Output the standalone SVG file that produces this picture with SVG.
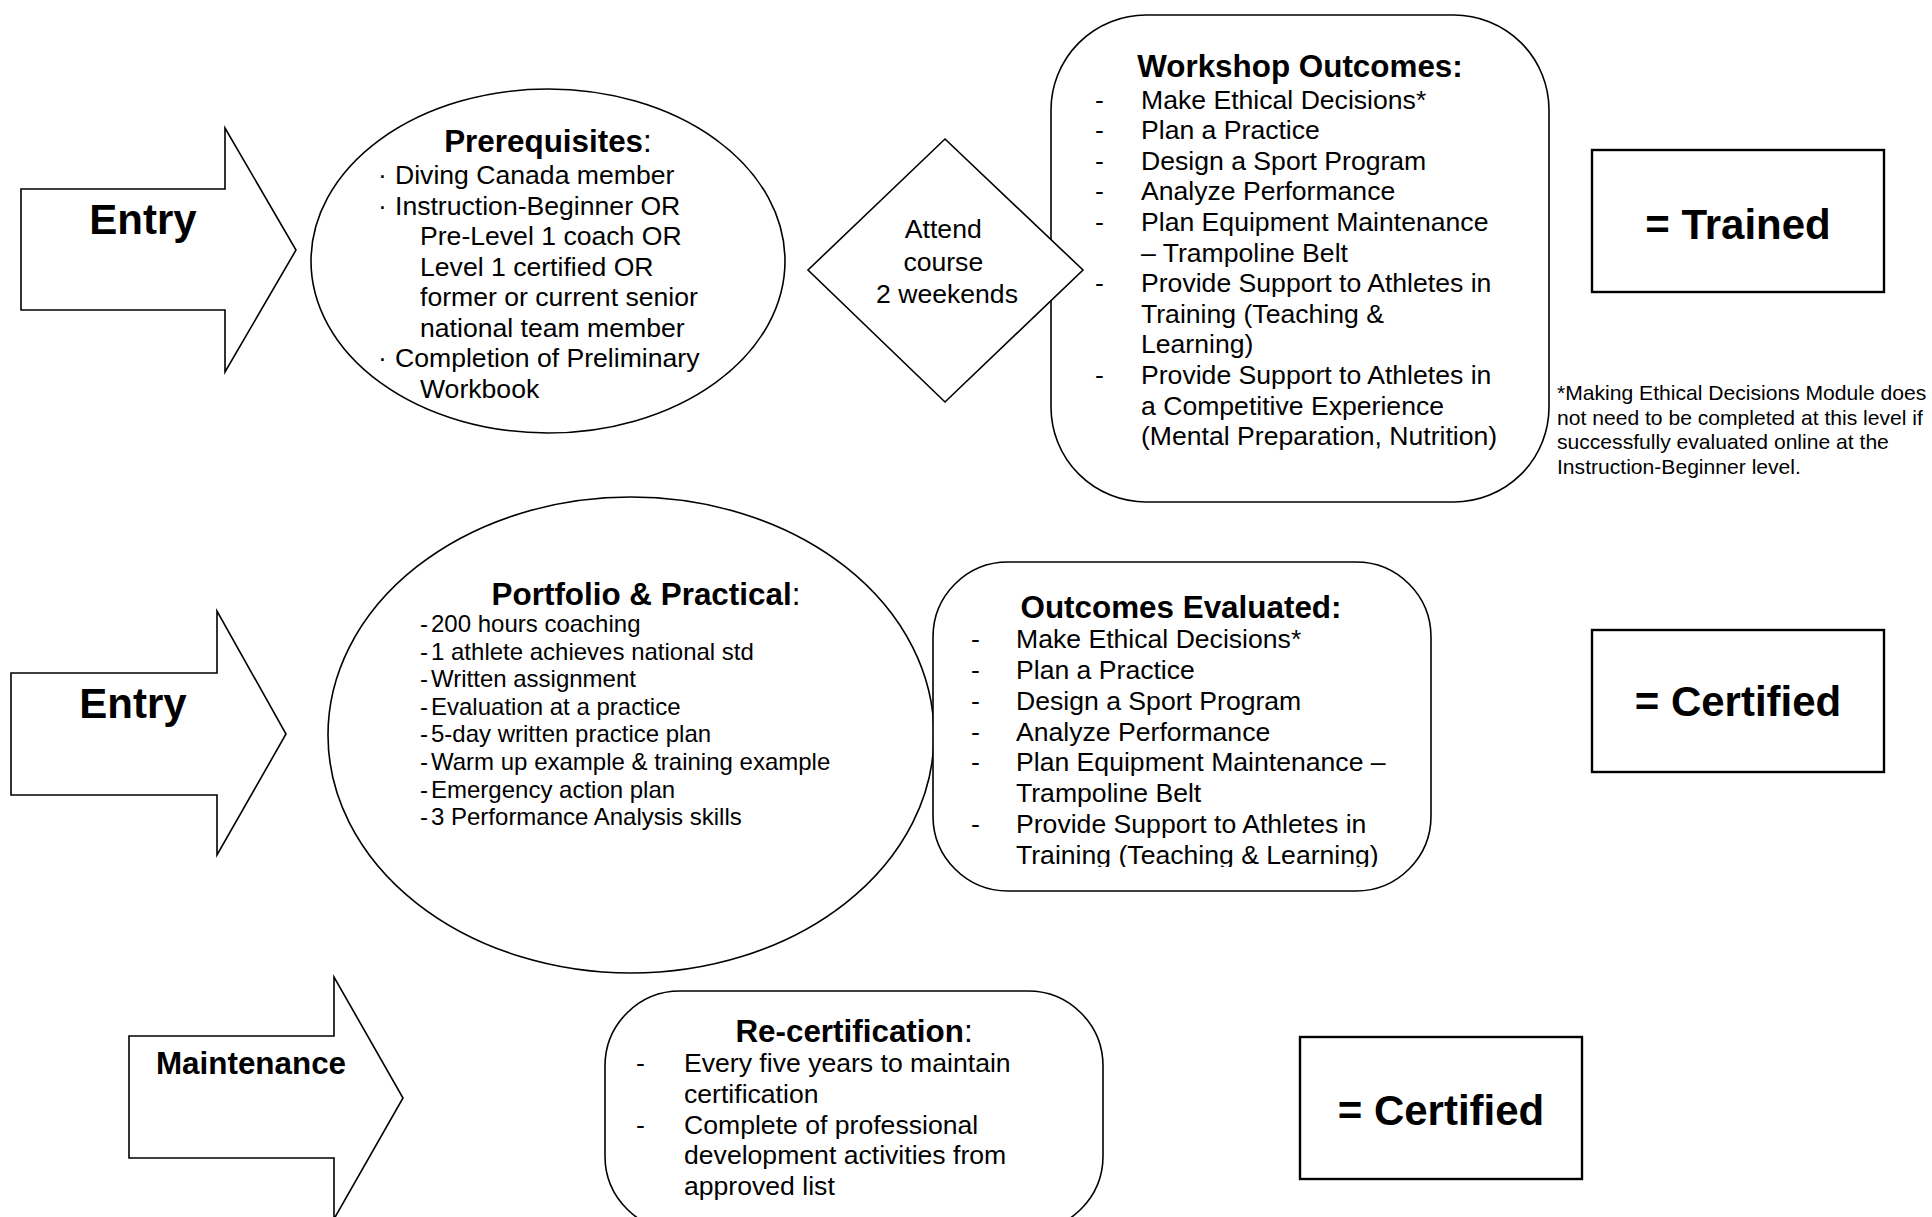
<svg xmlns="http://www.w3.org/2000/svg" width="1932" height="1217" viewBox="0 0 1932 1217">
<style>
.shape{fill:#fff;stroke:#000;stroke-width:1.6}
.box{fill:#fff;stroke:#000;stroke-width:2.4}
text{font-family:"Liberation Sans",Arial,sans-serif;fill:#000}
.title{font-size:31.4px;font-weight:bold;text-anchor:middle}
.big{font-size:42px;font-weight:bold;text-anchor:middle}
.body{font-size:26.6px}
.small{font-size:24px}
.note{font-size:21.1px}
.reg{font-weight:normal}
</style>
<defs>
<clipPath id="clipEval"><rect x="933" y="560" width="500" height="307"/></clipPath>
</defs>
<rect width="1932" height="1217" fill="#fff"/>
<g id="connectors"/>

<g id="entry1">
<polygon class="shape" points="21,189 225,189 225,128 296,250 225,372 225,310 21,310"/>
<text class="big" x="143" y="234">Entry</text>
</g>

<g id="prerequisites">
<ellipse class="shape" cx="548" cy="261" rx="237" ry="172"/>
<text class="title" x="548" y="152">Prerequisites<tspan class="reg">:</tspan></text>
<text class="body">
<tspan x="378" y="184">·</tspan><tspan x="395" y="184">Diving Canada member</tspan>
<tspan x="378" y="214.5">·</tspan><tspan x="395" y="214.5">Instruction-Beginner OR</tspan>
<tspan x="420" y="245">Pre-Level 1 coach OR</tspan>
<tspan x="420" y="275.5">Level 1 certified OR</tspan>
<tspan x="420" y="306">former or current senior</tspan>
<tspan x="420" y="336.5">national team member</tspan>
<tspan x="378" y="367">·</tspan><tspan x="395" y="367">Completion of Preliminary</tspan>
<tspan x="420" y="397.5">Workbook</tspan>
</text>
</g>

<g id="workshop-outcomes">
<rect class="shape" x="1051" y="15" width="498" height="487" rx="95" ry="95"/>
<text class="title" x="1300" y="77">Workshop Outcomes:</text>
<text class="body">
<tspan x="1095" y="108.5">-</tspan><tspan x="1141" y="108.5">Make Ethical Decisions*</tspan>
<tspan x="1095" y="139.1">-</tspan><tspan x="1141" y="139.1">Plan a Practice</tspan>
<tspan x="1095" y="169.7">-</tspan><tspan x="1141" y="169.7">Design a Sport Program</tspan>
<tspan x="1095" y="200.3">-</tspan><tspan x="1141" y="200.3">Analyze Performance</tspan>
<tspan x="1095" y="230.9">-</tspan><tspan x="1141" y="230.9">Plan Equipment Maintenance</tspan>
<tspan x="1141" y="261.5">– Trampoline Belt</tspan>
<tspan x="1095" y="292.1">-</tspan><tspan x="1141" y="292.1">Provide Support to Athletes in</tspan>
<tspan x="1141" y="322.7">Training (Teaching &amp;</tspan>
<tspan x="1141" y="353.3">Learning)</tspan>
<tspan x="1095" y="383.9">-</tspan><tspan x="1141" y="383.9">Provide Support to Athletes in</tspan>
<tspan x="1141" y="414.5">a Competitive Experience</tspan>
<tspan x="1141" y="445.1">(Mental Preparation, Nutrition)</tspan>
</text>
</g>

<g id="attend-course">
<polygon class="shape" points="945,139 1083,270 945,402 808,270"/>
<text class="body" text-anchor="middle">
<tspan x="947" y="238">Attend</tspan>
<tspan x="947" y="271">course</tspan>
<tspan x="947" y="303">2 weekends</tspan>
</text>
</g>

<g id="trained">
<rect class="box" x="1592" y="150" width="292" height="142"/>
<text class="big" x="1738" y="239">= Trained</text>
</g>

<g id="footnote">
<text class="note">
<tspan x="1557" y="400">*Making Ethical Decisions Module does</tspan>
<tspan x="1557" y="424.6">not need to be completed at this level if</tspan>
<tspan x="1557" y="449.2">successfully evaluated online at the</tspan>
<tspan x="1557" y="473.8">Instruction-Beginner level.</tspan>
</text>
</g>

<g id="entry2">
<polygon class="shape" points="11,673 217,673 217,611 286,734 217,855 217,795 11,795"/>
<text class="big" x="133" y="718">Entry</text>
</g>

<g id="portfolio">
<ellipse class="shape" cx="631" cy="735" rx="303" ry="238"/>
<text class="title" x="646" y="605">Portfolio &amp; Practical<tspan class="reg">:</tspan></text>
<text class="small">
<tspan x="420" y="632">-</tspan><tspan x="431" y="632">200 hours coaching</tspan>
<tspan x="420" y="659.6">-</tspan><tspan x="431" y="659.6">1 athlete achieves national std</tspan>
<tspan x="420" y="687.2">-</tspan><tspan x="431" y="687.2">Written assignment</tspan>
<tspan x="420" y="714.8">-</tspan><tspan x="431" y="714.8">Evaluation at a practice</tspan>
<tspan x="420" y="742.4">-</tspan><tspan x="431" y="742.4">5-day written practice plan</tspan>
<tspan x="420" y="770">-</tspan><tspan x="431" y="770">Warm up example &amp; training example</tspan>
<tspan x="420" y="797.6">-</tspan><tspan x="431" y="797.6">Emergency action plan</tspan>
<tspan x="420" y="825.2">-</tspan><tspan x="431" y="825.2">3 Performance Analysis skills</tspan>
</text>
</g>

<g id="outcomes-evaluated">
<rect class="shape" x="933" y="562" width="498" height="329" rx="75" ry="75"/>
<text class="title" x="1181" y="618">Outcomes Evaluated:</text>
<text class="body" clip-path="url(#clipEval)">
<tspan x="971" y="648">-</tspan><tspan x="1016" y="648">Make Ethical Decisions*</tspan>
<tspan x="971" y="679">-</tspan><tspan x="1016" y="679">Plan a Practice</tspan>
<tspan x="971" y="710">-</tspan><tspan x="1016" y="710">Design a Sport Program</tspan>
<tspan x="971" y="740.5">-</tspan><tspan x="1016" y="740.5">Analyze Performance</tspan>
<tspan x="971" y="771">-</tspan><tspan x="1016" y="771">Plan Equipment Maintenance –</tspan>
<tspan x="1016" y="802">Trampoline Belt</tspan>
<tspan x="971" y="833">-</tspan><tspan x="1016" y="833">Provide Support to Athletes in</tspan>
<tspan x="1016" y="864">Training (Teaching &amp; Learning)</tspan>
</text>
</g>

<g id="certified1">
<rect class="box" x="1592" y="630" width="292" height="142"/>
<text class="big" x="1738" y="716">= Certified</text>
</g>

<g id="maintenance">
<polygon class="shape" points="129,1036 334,1036 334,977 403,1098 334,1219 334,1158 129,1158"/>
<text class="title" x="251" y="1074">Maintenance</text>
</g>

<g id="recertification">
<rect class="shape" x="605" y="991" width="498" height="240" rx="75" ry="75"/>
<text class="title" x="854" y="1042">Re-certification<tspan class="reg">:</tspan></text>
<text class="body">
<tspan x="636" y="1072">-</tspan><tspan x="684" y="1072">Every five years to maintain</tspan>
<tspan x="684" y="1103">certification</tspan>
<tspan x="636" y="1133.5">-</tspan><tspan x="684" y="1133.5">Complete of professional</tspan>
<tspan x="684" y="1164">development activities from</tspan>
<tspan x="684" y="1195">approved list</tspan>
</text>
</g>

<g id="certified2">
<rect class="box" x="1300" y="1037" width="282" height="142"/>
<text class="big" x="1441" y="1125">= Certified</text>
</g>
</svg>
